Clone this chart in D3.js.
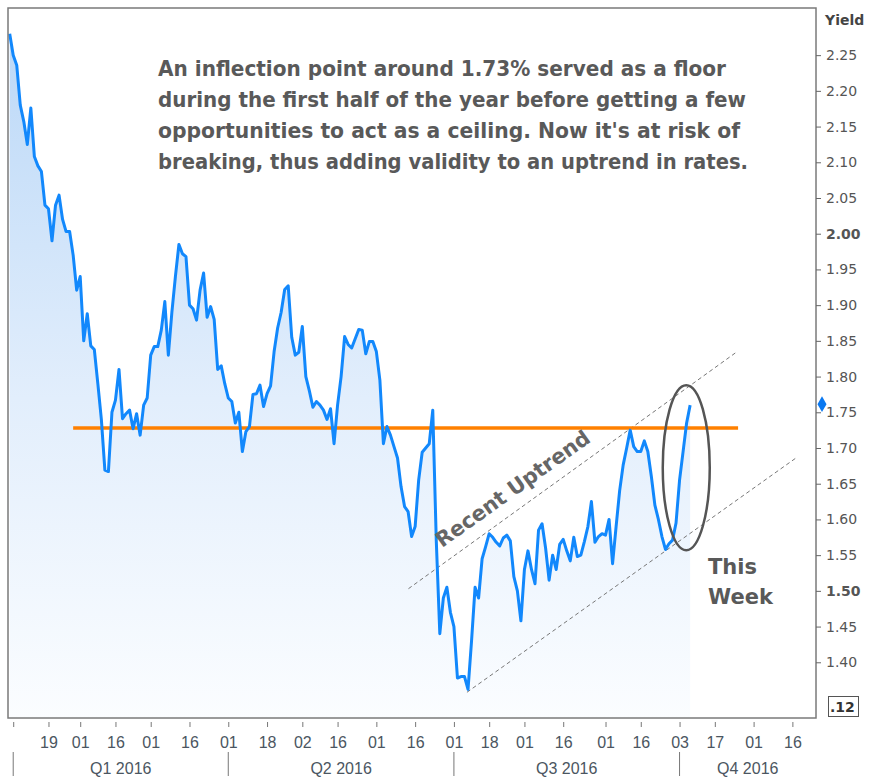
<!DOCTYPE html>
<html>
<head>
<meta charset="utf-8">
<script src="https://cdn.jsdelivr.net/npm/d3@7/dist/d3.min.js"></script>
<style>
  body { margin: 0; background: #fff; }
  svg { display: block; }
</style>
</head>
<body>
<svg id="chart" width="872" height="779"></svg>
<script>
// 10yr yield, one value per trading day, first value is Dec 31 2015 (day -1)
const firstDay = -1;
const yields = [
  2.28, 2.25, 2.236, 2.18, 2.157, 2.125, 2.176, 2.108, 2.095, 2.087,
  2.04, 2.035, 1.99, 2.04, 2.054, 2.02, 2.003, 2.003, 1.97, 1.921,
  1.94, 1.85, 1.888, 1.843, 1.838, 1.79, 1.74, 1.669, 1.667, 1.75,
  1.767, 1.81, 1.741, 1.748, 1.753, 1.727, 1.748, 1.718, 1.76, 1.77,
  1.83, 1.842, 1.842, 1.865, 1.905, 1.83, 1.89, 1.94, 1.985, 1.972,
  1.968, 1.90, 1.895, 1.879, 1.921, 1.945, 1.883, 1.898, 1.88, 1.81,
  1.815, 1.79, 1.77, 1.765, 1.735, 1.75, 1.695, 1.723, 1.73, 1.775,
  1.776, 1.788, 1.758, 1.776, 1.787, 1.835, 1.868, 1.89, 1.922, 1.927,
  1.855, 1.83, 1.834, 1.87, 1.80, 1.78, 1.757, 1.765, 1.76, 1.753,
  1.74, 1.755, 1.706, 1.76, 1.80, 1.856, 1.845, 1.84, 1.853, 1.866,
  1.865, 1.832, 1.849, 1.849, 1.835, 1.795, 1.706, 1.73, 1.718, 1.702,
  1.686, 1.646, 1.618, 1.611, 1.576, 1.59, 1.655, 1.694, 1.70, 1.706,
  1.753, 1.57, 1.44, 1.49, 1.505, 1.47, 1.45, 1.378, 1.38, 1.38,
  1.362, 1.43, 1.505, 1.49, 1.545, 1.562, 1.58, 1.575, 1.568, 1.563,
  1.574, 1.578, 1.57, 1.52, 1.50, 1.458, 1.53, 1.556, 1.53, 1.51,
  1.585, 1.594, 1.56, 1.515, 1.55, 1.53, 1.565, 1.572, 1.556, 1.542,
  1.575, 1.548, 1.55, 1.569, 1.59, 1.625, 1.568, 1.576, 1.58, 1.578,
  1.60, 1.538, 1.59, 1.64, 1.676, 1.70, 1.725, 1.702, 1.695, 1.695,
  1.71, 1.695, 1.66, 1.62, 1.60, 1.576, 1.558, 1.566, 1.571, 1.595,
  1.655, 1.695, 1.735, 1.76
];

// x axis: trading day numbers of the ticks and their labels
const tickDays = [0, 10, 19, 29, 39, 50, 61, 72, 82, 92, 103, 114,
  125, 135, 145, 156, 168, 178, 189, 199, 210, 221];
const tickLabels = ['', '19', '01', '16', '01', '16', '01', '18', '02', '16', '01', '16',
  '01', '18', '01', '16', '01', '16', '03', '17', '01', '16'];
const quarterStarts = [0, 61, 125, 189];
const quarterEnds = [61, 125, 189, 227.7];
const quarterLabels = ['Q1 2016', 'Q2 2016', 'Q3 2016', 'Q4 2016'];

// y axis
const yTicks = [2.25, 2.2, 2.15, 2.1, 2.05, 2.0, 1.95, 1.9, 1.85, 1.8,
  1.75, 1.7, 1.65, 1.6, 1.55, 1.5, 1.45, 1.4];
const boldTicks = [2.0, 1.5];

// annotations
const floorLevel = 1.728;
const floorDays = [17, 205.6];
const upperTrend = [[112.1, 1.503], [204.8, 1.833]];
const lowerTrend = [[128.7, 1.358], [222.3, 1.687]];
const weekCenter = [190.9, 1.6725];
const noteLines = [
  'An inflection point around 1.73% served as a floor',
  'during the first half of the year before getting a few',
  "opportunities to act as a ceiling.  Now it's at risk of",
  'breaking, thus adding validity to an uptrend in rates.',
];

const plot = { left: 8, top: 8, right: 816, bottom: 718 };

const x = d3.scaleLinear().domain([-1.48, 227.7]).range([plot.left, plot.right]);
const y = d3.scaleLinear().domain([1.322, 2.316]).range([plot.bottom, plot.top]);

const svg = d3.select('#chart');
const points = yields.map((v, i) => ({ day: firstDay + i, v }));

const defs = svg.append('defs');
const grad = defs.append('linearGradient')
  .attr('id', 'fillGrad')
  .attr('gradientUnits', 'userSpaceOnUse')
  .attr('x1', 0).attr('x2', 0)
  .attr('y1', plot.top).attr('y2', plot.bottom);
grad.append('stop').attr('offset', 0).attr('stop-color', '#b9d7f7');
grad.append('stop').attr('offset', 0.55).attr('stop-color', '#e2eefc');
grad.append('stop').attr('offset', 1).attr('stop-color', '#fbfdff');

defs.append('clipPath').attr('id', 'plotClip')
  .append('rect')
  .attr('x', plot.left).attr('y', plot.top)
  .attr('width', plot.right - plot.left).attr('height', plot.bottom - plot.top);

const g = svg.append('g').attr('clip-path', 'url(#plotClip)');

// area under the line
const area = d3.area()
  .x(d => x(d.day))
  .y0(plot.bottom)
  .y1(d => y(d.v));

g.append('path')
  .datum(points)
  .attr('d', area)
  .attr('fill', 'url(#fillGrad)');

// trend channel
const trendLine = d3.line().x(d => x(d[0])).y(d => y(d[1]));
[upperTrend, lowerTrend].forEach(t => {
  g.append('path')
    .attr('d', trendLine(t))
    .attr('fill', 'none')
    .attr('stroke', '#777')
    .attr('stroke-width', 1)
    .attr('stroke-dasharray', '4,3');
});

// floor / ceiling level
g.append('line')
  .attr('x1', x(floorDays[0]))
  .attr('x2', x(floorDays[1]))
  .attr('y1', y(floorLevel))
  .attr('y2', y(floorLevel))
  .attr('stroke', '#ff8000')
  .attr('stroke-width', 3.5);

// yield line
const line = d3.line()
  .x(d => x(d.day))
  .y(d => y(d.v));

g.append('path')
  .datum(points)
  .attr('d', line)
  .attr('fill', 'none')
  .attr('stroke', '#1288fc')
  .attr('stroke-width', 3)
  .attr('stroke-linejoin', 'round');

// "this week" ellipse
svg.append('ellipse')
  .attr('cx', x(weekCenter[0]))
  .attr('cy', y(weekCenter[1]))
  .attr('rx', 23.5)
  .attr('ry', 82.5)
  .attr('fill', 'none')
  .attr('stroke', '#555')
  .attr('stroke-width', 2.5);

// frame
svg.append('rect')
  .attr('x', plot.left).attr('y', plot.top)
  .attr('width', plot.right - plot.left).attr('height', plot.bottom - plot.top)
  .attr('fill', 'none')
  .attr('stroke', '#7a7a7a')
  .attr('stroke-width', 1.5);

// right y axis
const yAxis = svg.append('g')
  .attr('transform', `translate(${plot.right},0)`)
  .call(d3.axisRight(y).tickValues(yTicks).tickSize(5).tickPadding(5)
    .tickFormat(d3.format('.2f')));
yAxis.select('.domain').remove();
yAxis.selectAll('line').attr('stroke', '#666');
yAxis.selectAll('text')
  .attr('fill', '#555')
  .style('font-family', 'Tahoma, "DejaVu Sans", sans-serif')
  .style('font-size', '14px')
  .style('font-weight', d => (boldTicks.includes(d) ? 'bold' : 'normal'));

svg.append('text')
  .attr('x', 825).attr('y', 25)
  .attr('fill', '#444')
  .style('font-family', 'Tahoma, "DejaVu Sans", sans-serif')
  .style('font-size', '14px')
  .style('font-weight', 'bold')
  .text('Yield');

// last value marker
const last = points[points.length - 1];
svg.append('path')
  .attr('d', d3.symbol(d3.symbolDiamond, 70)())
  .attr('transform', `translate(${plot.right + 6},${y(last.v) - 1})`)
  .attr('fill', '#0a78f0');

// boxed label at bottom of the axis
svg.append('rect')
  .attr('x', 828.5).attr('y', 696.5)
  .attr('width', 30).attr('height', 20)
  .attr('fill', '#fff')
  .attr('stroke', '#555')
  .attr('stroke-width', 1);
svg.append('text')
  .attr('x', 830).attr('y', 712)
  .attr('fill', '#333')
  .style('font-family', 'Tahoma, "DejaVu Sans", sans-serif')
  .style('font-size', '14px')
  .style('font-weight', 'bold')
  .text('.12');

// bottom axis
const xAxis = svg.append('g')
  .attr('transform', `translate(0,${plot.bottom + 4})`)
  .call(d3.axisBottom(x).tickValues(tickDays).tickSize(5).tickPadding(10)
    .tickFormat((d, i) => tickLabels[i]));
xAxis.select('.domain').remove();
xAxis.selectAll('line').attr('stroke', '#777');
xAxis.selectAll('text')
  .attr('fill', '#4b5661')
  .style('font-family', '"Liberation Sans", Arial, sans-serif')
  .style('font-size', '16px');

const quarters = svg.append('g');
quarterStarts.forEach((d, i) => {
  quarters.append('line')
    .attr('x1', x(d)).attr('x2', x(d))
    .attr('y1', 752).attr('y2', 776)
    .attr('stroke', '#777');
  quarters.append('text')
    .attr('x', (x(d) + x(quarterEnds[i])) / 2)
    .attr('y', 774)
    .attr('text-anchor', 'middle')
    .attr('fill', '#4b5661')
    .style('font-family', '"Liberation Sans", Arial, sans-serif')
    .style('font-size', '16px')
    .text(quarterLabels[i]);
});

// text annotations
const noteWidths = [568, 588, 582, 590];
svg.append('g').selectAll('text')
  .data(noteLines)
  .join('text')
  .attr('x', 158)
  .attr('y', (d, i) => 76 + i * 31)
  .attr('textLength', (d, i) => noteWidths[i])
  .attr('lengthAdjust', 'spacingAndGlyphs')
  .attr('fill', '#595959')
  .style('font-family', '"DejaVu Sans", Tahoma, sans-serif')
  .style('font-size', '21px')
  .style('font-weight', 'bold')
  .text(d => d);

svg.append('text')
  .attr('transform', 'translate(442,548) rotate(-35.5)')
  .attr('textLength', 184)
  .attr('lengthAdjust', 'spacingAndGlyphs')
  .attr('fill', '#666')
  .style('font-family', '"DejaVu Sans", Tahoma, sans-serif')
  .style('font-size', '21px')
  .style('font-weight', 'bold')
  .text('Recent Uptrend');

['This', 'Week'].forEach((w, i) => {
  svg.append('text')
    .attr('x', 708)
    .attr('y', 574 + i * 30)
    .attr('fill', '#595959')
    .style('font-family', '"DejaVu Sans", Tahoma, sans-serif')
    .style('font-size', '21px')
    .style('font-weight', 'bold')
    .text(w);
});
</script>
</body>
</html>
